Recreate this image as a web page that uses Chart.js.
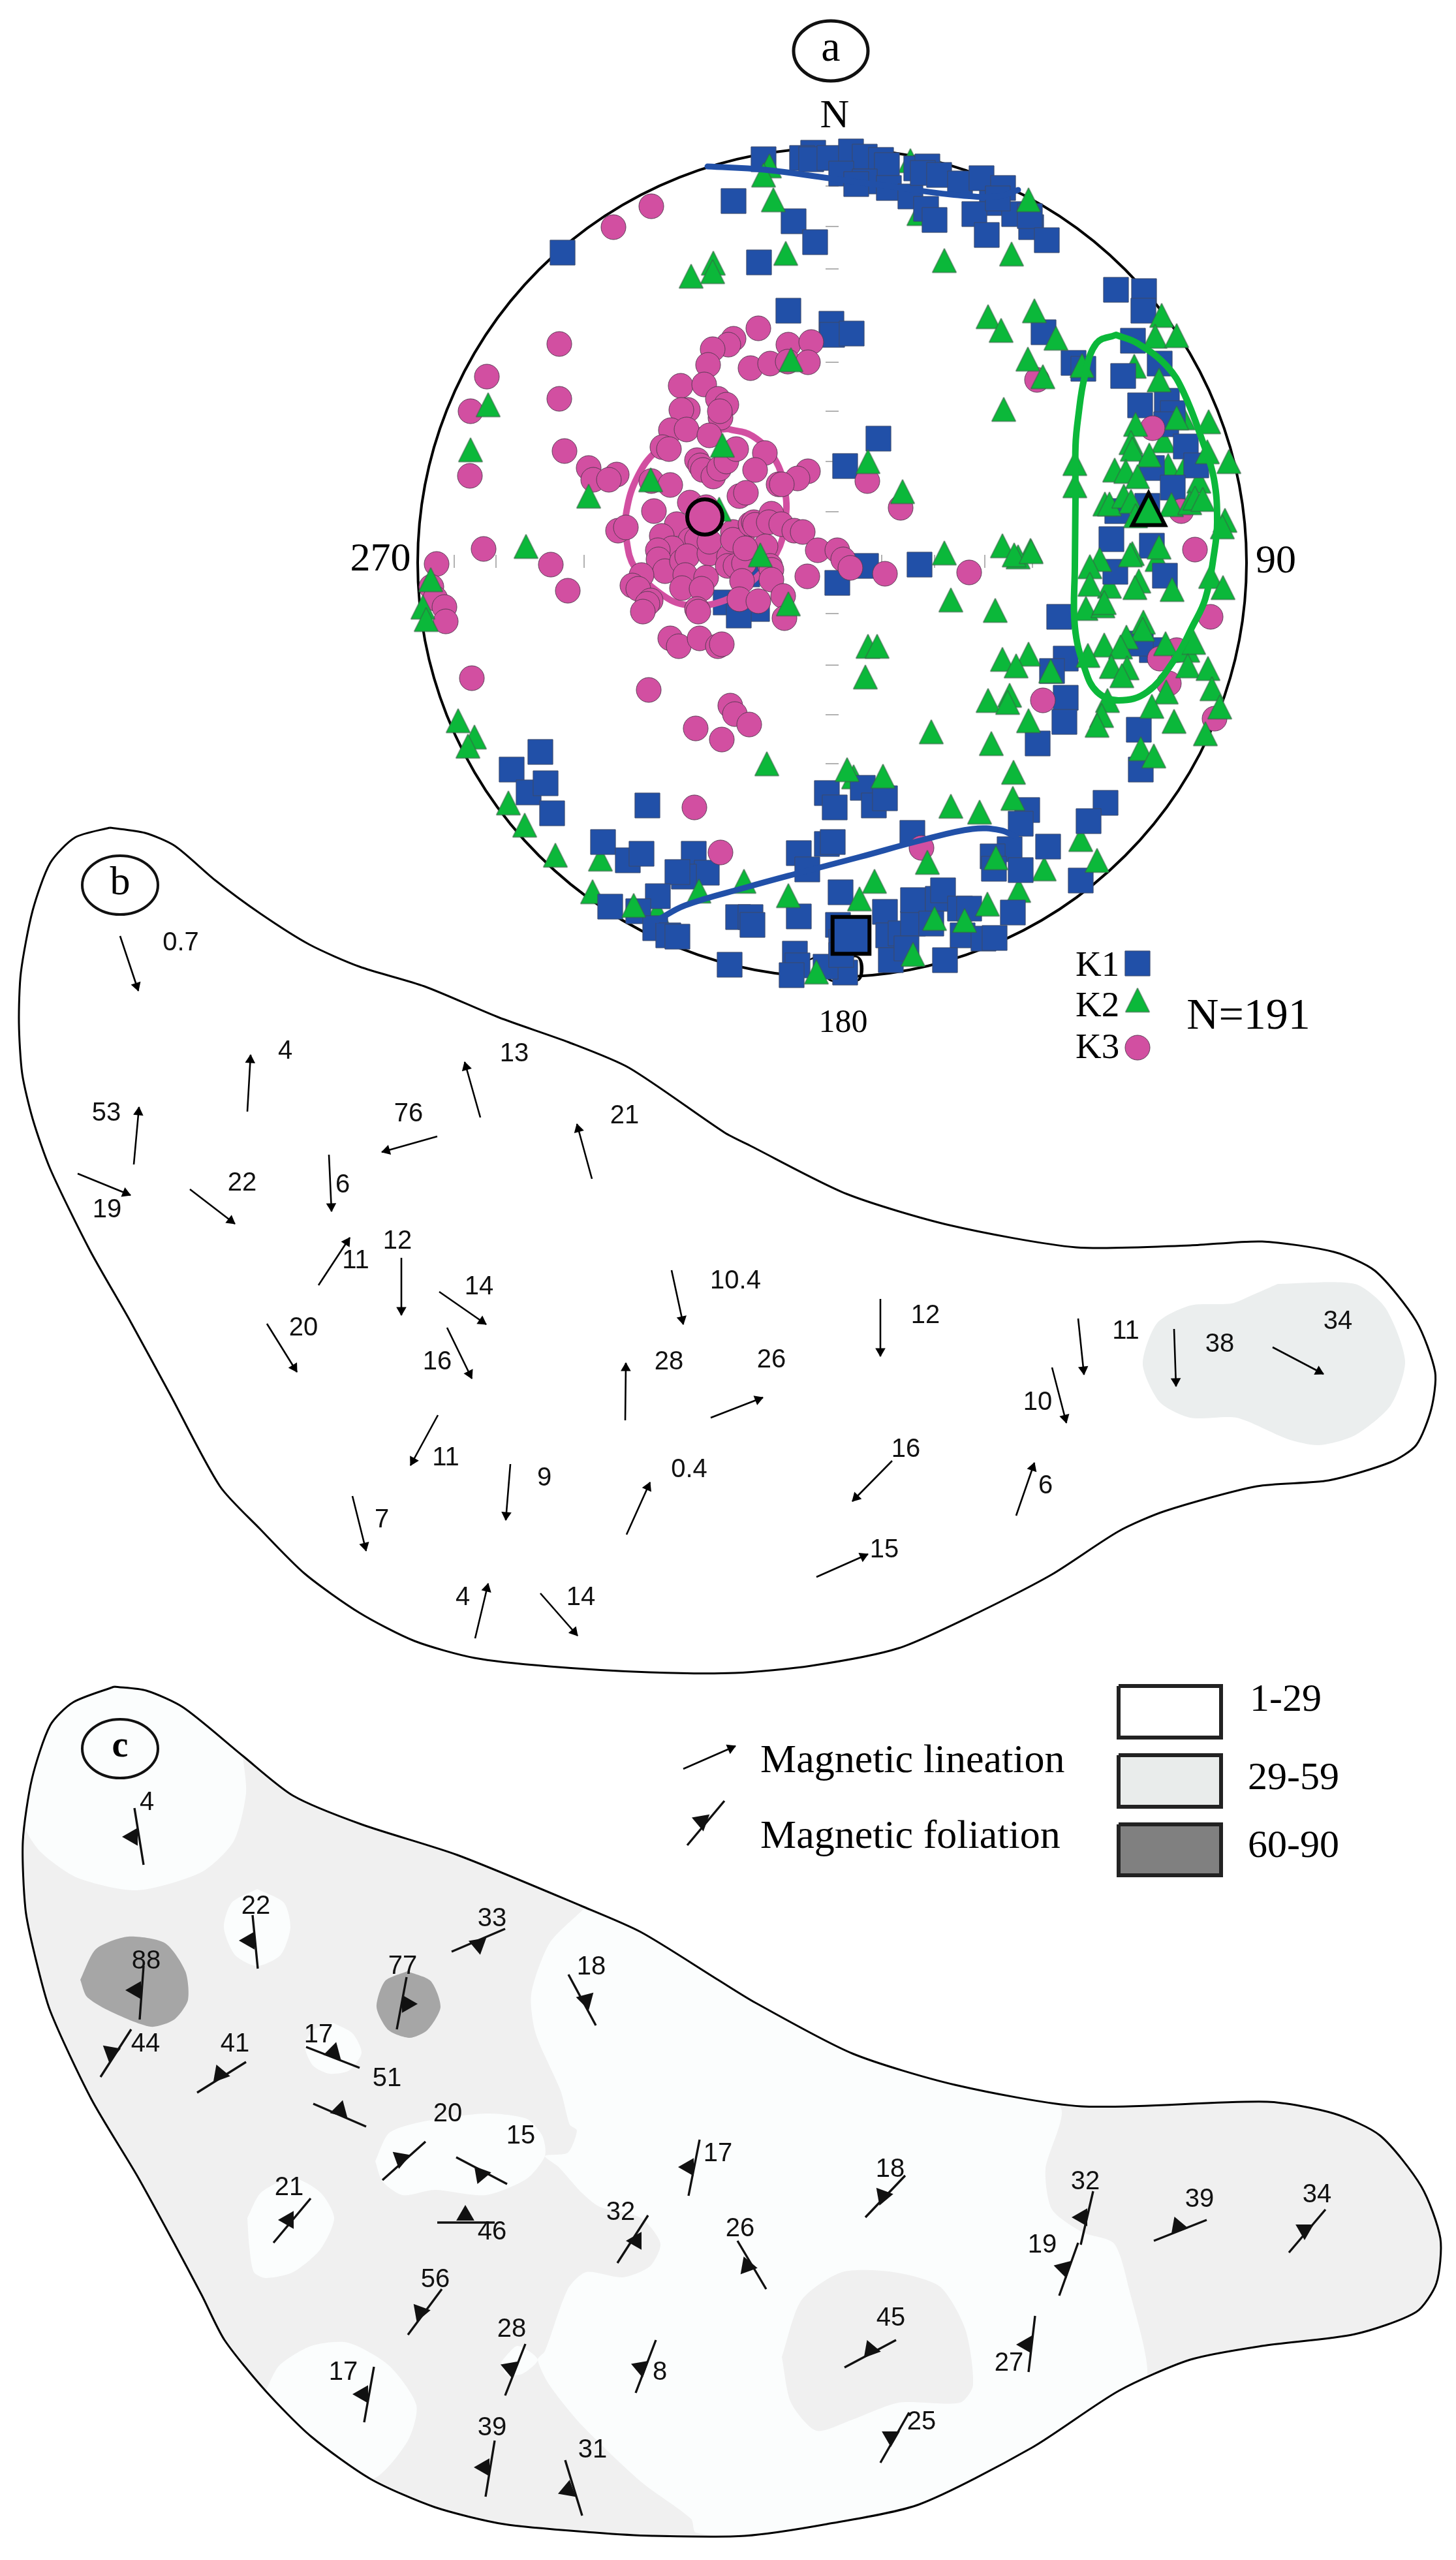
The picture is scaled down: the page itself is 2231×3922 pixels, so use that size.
<!DOCTYPE html>
<html><head><meta charset="utf-8">
<style>html,body{margin:0;padding:0;background:#fff}#w{width:2231px;height:3922px}</style>
<script src="https://cdn.jsdelivr.net/npm/chart.js@4"></script>
</head><body><div id="w"><canvas id="c" width="2231" height="3922"></canvas></div>
<script>
// Stereonet principal axes, read in sheet coordinates
const k1 = [[1170,244],[1246,234],[1229,242],[1243,244],[1271,242],[1304,232],[1325,240],[1350,245],[1359,253],[1289,266],[1325,278],[1312,282],[1362,288],[1395,301],[1404,258],[1421,255],[1414,265],[1439,268],[1471,281],[1504,273],[1537,288],[1520,311],[1493,328],[1554,328],[1580,348],[1578,331],[1604,368],[1512,360],[1419,320],[1432,337],[1529,304],[1124,308],[1216,339],[1249,371],[1163,402],[862,387],[1208,476],[1274,496],[1275,513],[1305,511],[1710,444],[1753,446],[1752,476],[1599,509],[1736,522],[1645,556],[1660,565],[1721,576],[1777,557],[1747,621],[1788,614],[1797,633],[1787,650],[1346,672],[1295,714],[1817,684],[1833,713],[1765,717],[1797,747],[1758,775],[1712,783],
[1703,826],[1765,836],[1709,876],[1785,882],[1327,867],[1409,865],[1283,893],[1145,880],[1112,923],[1160,933],[1132,943],[1623,945],[1633,1009],[1612,1028],[1765,996],[1748,986],[1633,1069],[1631,1106],[1590,1139],[1745,1118],[1748,1179],[828,1152],[784,1179],[810,1214],[836,1200],[846,1246],[992,1234],[1267,1215],[1279,1237],[1322,1207],[1339,1234],[1356,1223],[924,1290],[962,1318],[983,1308],[1063,1308],[1224,1307],[1267,1293],[1276,1290],[1398,1276],[1574,1241],[1564,1262],[1694,1230],[1668,1258],[1606,1297],[1547,1301],[1521,1312],[1523,1331],[1564,1333],[1656,1349],[1237,1332],[1083,1337],[1048,1343],[1038,1336],[1008,1373],[935,1389],[978,1396],[1004,1422],[1024,1433],[1038,1435],[1118,1478],[1224,1404],[1131,1405],[1150,1405],[1153,1417],[1288,1367],[1218,1461],[1222,1479],[1213,1494],[1295,1490],[1265,1481],[1284,1417],[1289,1443],[1356,1397],[1361,1433],[1380,1430],[1399,1415],[1399,1379],[1437,1377],[1445,1364],[1471,1392],[1485,1392],[1427,1415],[1475,1433],[1507,1438],[1524,1437],[1552,1398],[1448,1471],[1365,1471],[1389,1453],[1289,1463]];
const k2Behind = [[1395,246],[1435,255],[1408,327],[1738,561],[920,1316],[1656,1286],[1561,1364],[1600,1331],[1308,1190],[1007,1397],[908,1366],[1813,640],[1783,675],[1790,713],[1817,713],[1837,737],[1773,857],[1700,898]];
const k2 = [[1179,254],[1170,268],[1185,306],[1576,306],[1204,388],[1093,403],[1092,416],[1059,423],[1447,399],[1550,389],[1514,485],[1585,476],[1534,506],[1618,518],[1575,550],[1598,577],[1658,560],[1538,627],[1780,483],[1770,515],[1803,514],[1776,582],[748,620],[721,689],[1212,551],[1107,682],[1330,707],[997,735],[902,760],[1383,753],[1102,780],
[1852,646],[1803,640],[1740,650],[1733,678],[1735,688],[1761,697],[1883,707],[1850,692],[1647,710],[1647,744],[1708,720],[1725,722],[1743,730],[1693,772],[1700,772],[1722,760],[1733,768],[1795,773],[1823,770],[1831,763],[1843,765],[1740,790],[1877,797],[1873,807],[1579,843],[1560,853],[1735,848],[1732,850],[1776,838],[1685,857],[1670,868],[1670,895],[1745,890],[1739,900],[1796,903],[1855,883],[1874,900],[1664,932],[1690,928],[1692,923],[1752,953],
[806,837],[1447,847],[1536,836],[1554,850],[1580,845],[1165,850],[1457,919],[1525,935],[1208,925],[660,888],[648,930],[653,949],[1751,964],[1786,986],[1726,976],[1692,988],[1717,991],[1667,1004],[1820,996],[1829,984],[1576,1002],[1536,1010],[1557,1020],[1610,1028],[1703,1021],[1727,1023],[1719,1035],[1820,1020],[1851,1024],[1330,990],[1344,990],[1326,1037],[1787,1060],[1857,1055],[1697,1073],[1765,1082],[1514,1073],[1547,1065],[1544,1076],[1688,1096],[1681,1111],[1576,1104],[1799,1105],[1869,1083],[1847,1124],[1427,1121],[1519,1139],[1748,1147],[1768,1158],[1553,1183],[1552,1223],[702,1104],[727,1129],[717,1143],[779,1230],[804,1264],[851,1310],[971,1387],[1140,1350],[1071,1365],[1208,1372],[1175,1170],[1298,1179],[1353,1189],[1457,1235],[1501,1244],[1421,1321],[1526,1314],[1681,1318],[1340,1350],[1317,1377],[1513,1385],[1432,1407],[1478,1410],[1399,1462],[1251,1489]];
const k3 = [[998,316],[940,348],[857,527],[857,611],[746,577],[721,630],[720,729],[865,691],[902,717],[909,735],[1162,503],[1124,519],[1116,528],[1092,535],[1208,528],[1243,524],[1085,559],[1150,564],[1180,557],[1207,554],[1238,555],[1043,591],[1079,589],[1100,611],[1113,620],[1054,628],[1044,628],[1104,640],
[1028,659],[1052,658],[1015,685],[1025,688],[1087,667],[1103,630],[1068,705],[1073,713],[1077,720],[1093,730],[1102,718],[1113,707],[1128,688],[1172,694],[1157,720],[1238,722],[1222,733],[1193,742],[1198,742],[1133,760],[1143,755],[998,737],[1027,743],[945,727],[933,735],[1057,770],[1082,777],[1002,783],[947,813],[959,808],[1037,803],[1014,821],[1058,827],[1068,826],[1030,840],[1008,843],[1009,857],[1019,875],[1045,860],[1053,852],[1087,848],[1087,830],[1050,881],[1082,885],[1117,853],[1115,867],[1127,867],[1140,863],[1123,815],[1137,827],[1123,827],[1150,803],[1155,800],[1157,804],[1182,787],[1178,800],[1197,803],[1217,813],[1230,815],[1173,837],[1180,867],[1182,873],[1182,888],[1137,890],[1142,840],[983,881],[969,897],[978,902],[997,920],[992,925],[985,937],[1045,901],[1075,902],[1068,933],[1070,937],[1133,918],[1162,921],[1200,913],[1202,947],[1253,843],[1283,843],[1292,857],[1303,870],[1237,883],[1027,978],[1040,990],[1072,978],[1100,990],[1106,987],
[1329,737],[1380,778],[1589,582],[1766,656],[1810,783],[1356,879],[1485,877],[1831,842],[741,841],[844,865],[870,905],[669,864],[661,899],[667,917],[681,930],[683,952],[723,1039],[994,1057],[1119,1081],[1126,1094],[1148,1110],[1066,1116],[1106,1133],[1803,996],[1777,1009],[1855,945],[1791,1047],[1598,1073],[1861,1101],[1064,1237],[1104,1306],[1412,1299]];
const meanK1 = [[1304,1433]];
const meanK2 = [[1760,780]];
const meanK3 = [[1080,792]];
const legendK1 = [[1743,1476]];
const legendK2 = [[1743,1532]];
const legendK3 = [[1743,1605]];
const confK1north = [[1084,255],[1171,260],[1270,273],[1360,285],[1457,298],[1529,301],[1560,291]];
const confK1south = [[1007,1410],[1050,1387],[1145,1359],[1222,1338],[1317,1313],[1413,1287],[1490,1270],[1533,1272],[1557,1282]];
const confK2 = [[1710,513],[1680,526],[1662,577],[1652,640],[1648,683],[1648,760],[1647,867],[1647,960],[1662,1024],[1681,1060],[1714,1073],[1758,1060],[1800,1010],[1827,960],[1847,917],[1860,850],[1865,800],[1860,733],[1843,677],[1813,600],[1788,561],[1743,526],[1710,513]];
const confK3 = [[1115,657],[1153,668],[1187,703],[1203,753],[1203,800],[1190,847],[1153,890],[1110,920],[1053,927],[1013,910],[973,870],[960,827],[960,783],[977,730],[1007,690],[1053,663],[1115,657]];
const netCentre = [[1275,862]];
const netTicksNS = [[1275,285],[1275,347],[1275,412],[1275,555],[1275,630],[1275,707],[1275,784],[1275,940],[1275,1019],[1275,1095],[1275,1170]];
const netTicksEW = [[696,860],[760,860],[895,860],[1351,860],[1432,860],[1509,860],[1582,860]];

// Map outlines and shaded domains
const outlineB = [[168,1268],[222,1276],[268,1296],[329,1348],[398,1399],[474,1447],[551,1481],[650,1511],[765,1559],[872,1597],[964,1636],[1110,1735],[1149,1755],[1297,1829],[1455,1877],[1649,1911],[1824,1908],[1934,1902],[2044,1918],[2107,1947],[2170,2024],[2199,2102],[2193,2159],[2170,2214],[2131,2240],[2036,2268],[1926,2277],[1785,2315],[1714,2346],[1612,2412],[1502,2469],[1377,2525],[1243,2552],[1126,2563],[995,2562],[842,2553],[727,2540],[635,2514],[551,2471],[467,2411],[398,2342],[337,2277],[260,2135],[199,2023],[138,1916],[77,1791],[50,1714],[34,1645],[29,1567],[32,1490],[50,1395],[77,1322],[115,1283],[168,1268]];
const domainB = [[1958,1967],[2076,1967],[2123,2004],[2153,2085],[2131,2153],[2076,2199],[2021,2214],[1974,2205],[1895,2172],[1824,2172],[1777,2148],[1751,2090],[1773,2027],[1824,2000],[1887,1997],[1919,1984],[1958,1967]];
const outlineC = [[175,2584],[224,2590],[281,2616],[372,2690],[449,2751],[554,2795],[701,2842],[891,2920],[982,2960],[1100,3033],[1157,3068],[1306,3146],[1463,3194],[1657,3227],[1942,3220],[2044,3238],[2115,3272],[2178,3350],[2207,3429],[2201,3498],[2170,3542],[2076,3576],[1934,3594],[1824,3615],[1714,3663],[1581,3750],[1408,3837],[1267,3867],[1141,3885],[1000,3885],[912,3880],[772,3867],[666,3841],[568,3798],[477,3733],[407,3663],[344,3585],[309,3516],[267,3437],[210,3333],[140,3216],[77,3081],[53,2994],[39,2925],[35,2821],[49,2725],[77,2643],[112,2608],[175,2584]];
const lowC = [
 [[372,2690],[377,2747],[358,2821],[309,2868],[210,2896],[119,2877],[63,2838],[39,2799],[49,2725],[77,2643],[112,2608],[175,2584],[224,2590],[281,2616],[372,2690]],
 [[394,2894],[435,2915],[445,2953],[430,2995],[394,3012],[360,2995],[343,2953],[355,2915],[394,2894]],
 [[510,3099],[540,3115],[554,3145],[535,3172],[505,3177],[480,3165],[467,3135],[480,3110],[510,3099]],
 [[575,3311],[596,3268],[645,3251],[744,3238],[807,3246],[831,3272],[835,3303],[807,3338],[744,3363],[666,3355],[617,3363],[586,3342],[575,3311]],
 [[894,2925],[842,2977],[814,3055],[821,3116],[859,3203],[873,3255],[884,3264],[870,3298],[835,3303],[856,3320],[891,3359],[919,3381],[982,3398],[1012,3437],[996,3472],[954,3489],[898,3481],[870,3507],[835,3602],[824,3615],[842,3654],[891,3715],[982,3802],[1059,3859],[1066,3880],[1141,3885],[1267,3867],[1408,3837],[1581,3750],[1714,3663],[1758,3641],[1730,3507],[1707,3437],[1659,3420],[1612,3385],[1602,3324],[1624,3227],[1463,3194],[1306,3146],[1157,3068],[1100,3033],[982,2960],[894,2925]],
 [[379,3398],[400,3359],[449,3337],[491,3359],[512,3398],[491,3446],[449,3481],[407,3490],[389,3481],[382,3442],[379,3398]],
 [[407,3663],[428,3624],[477,3594],[533,3589],[596,3624],[638,3685],[624,3741],[568,3798],[477,3733],[407,3663]],
 [[768,3618],[793,3594],[824,3615],[800,3637],[775,3637],[768,3618]]
];
const midC = [[[1198,3611],[1228,3524],[1290,3481],[1369,3481],[1440,3503],[1479,3568],[1491,3654],[1471,3681],[1377,3681],[1306,3707],[1251,3724],[1212,3681],[1198,3611]]];
const highC = [
 [[123,3033],[147,2986],[196,2967],[253,2977],[284,3020],[288,3064],[267,3094],[231,3105],[168,3081],[133,3059],[123,3033]],
 [[624,3020],[660,3035],[675,3075],[655,3110],[628,3122],[595,3110],[577,3075],[590,3035],[624,3020]]
];
const legendClasses = [
 {label:'1-29', box:[[1714,2583],[1871,2583],[1871,2662],[1714,2662],[1714,2583]], fill:'#ffffff'},
 {label:'29-59',box:[[1714,2689],[1871,2689],[1871,2768],[1714,2768],[1714,2689]], fill:'#e9eceb'},
 {label:'60-90',box:[[1714,2795],[1871,2795],[1871,2873],[1714,2873],[1714,2795]], fill:'#808080'}
];

// Magnetic lineation arrows: tail x, tail y, head x, head y
const lineations = [[184,1434,212,1518],[379,1703,384,1616],[205,1784,213,1696],[119,1798,200,1831],[291,1822,360,1875],[504,1769,508,1856],[670,1741,585,1765],[736,1712,712,1627],[907,1806,884,1722],[488,1969,536,1896],[615,1927,615,2015],[673,1979,745,2029],[409,2028,455,2102],[685,2034,723,2112],[671,2168,629,2245],[540,2292,561,2376],[782,2243,775,2329],[728,2510,748,2426],[828,2441,885,2506],[960,2351,996,2271],[958,2176,959,2088],[1029,1946,1047,2029],[1089,2172,1169,2141],[1349,1990,1349,2078],[1652,2020,1661,2106],[1612,2095,1634,2180],[1799,2036,1802,2124],[1950,2064,2028,2105],[1367,2238,1306,2300],[1557,2322,1585,2241],[1251,2416,1330,2381],[1047,2710,1127,2675]];
const lineationLabels = [['0.7',277,1445],['4',437,1611],['53',163,1706],['19',164,1854],['22',371,1813],['6',525,1816],['76',626,1707],['13',788,1615],['21',957,1710],['12',609,1902],['11',545,1932],['14',734,1972],['20',465,2035],['16',670,2087],['10.4',1127,1963],['28',1025,2087],['26',1182,2084],['11',683,2234],['9',834,2265],['0.4',1056,2252],['7',585,2329],['4',709,2448],['14',890,2448],['12',1418,2016],['11',1725,2040],['38',1869,2060],['34',2050,2025],['10',1590,2149],['16',1388,2221],['6',1602,2277],['15',1355,2375]];

// Magnetic foliation: strike ends x0,y0,x1,y1 and dip flag x,y,direction(deg)
const foliations = [[206,2770,220,2857,203,2814,270],[387,2934,395,3016,382,2973,270],[220,3012,214,3094,208,3049,270],[201,3109,154,3182,170,3144,310],[377,3159,302,3206,337,3178,340],[469,3136,551,3168,511,3144,15],[480,3223,561,3258,521,3233,15],[623,3029,608,3109,624,3070,90],[774,2955,692,2990,733,2979,170],[871,3025,913,3103,898,3064,165],[652,3281,586,3340,614,3307,310],[699,3305,777,3346,737,3331,200],[476,3368,419,3436,442,3401,150],[670,3405,758,3405,713,3394,0],[993,3394,946,3467,975,3433,30],[677,3507,625,3577,644,3542,320],[805,3591,774,3670,782,3628,290],[1005,3585,974,3666,982,3627,290],[573,3626,558,3711,556,3668,270],[758,3739,744,3825,742,3780,270],[866,3769,892,3854,870,3815,250],[1072,3278,1055,3364,1055,3320,270],[1387,3333,1326,3397,1353,3364,320],[1130,3433,1174,3507,1145,3472,340],[1675,3357,1656,3439,1658,3397,270],[1652,3436,1623,3517,1630,3475,285],[1849,3401,1768,3433,1805,3411,340],[2031,3385,1975,3451,1999,3416,180],[1373,3585,1294,3627,1334,3600,340],[1586,3548,1576,3634,1573,3592,270],[1393,3696,1349,3773,1365,3733,180],[1110,2759,1053,2827,1075,2790,170]];
const foliationLabels = [['4',225,2762],['22',392,2921],['88',224,3005],['77',617,3013],['33',754,2940],['18',906,3014],['44',223,3132],['41',360,3132],['17',488,3118],['51',593,3185],['20',686,3239],['15',798,3273],['21',443,3352],['46',754,3420],['32',951,3390],['56',667,3493],['28',784,3569],['17',526,3635],['8',1011,3635],['39',754,3720],['31',908,3754],['17',1100,3300],['18',1364,3324],['26',1134,3415],['32',1663,3343],['39',1838,3370],['34',2018,3363],['19',1597,3440],['45',1365,3552],['27',1546,3621],['25',1412,3711]];

// Sheet text and panel tags
const panelTags = [['a',1273,78,57,46,'66px "Liberation Serif"',5],['b',184,1356,58,45,'62px "Liberation Serif"',4],['c',184,2679,58,45,'bold 56px "Liberation Serif"',4]];
const netLabels = [['N',1279,179,62],['270',583,858,62],['90',1955,861,62],['180',1292,1568,50],['N=191',1913,1558,68]];
const keyLabels = [['K1',1648,1481,55],['K2',1648,1543,55],['K3',1648,1607,55],['Magnetic lineation',1165,2699,62],['Magnetic foliation',1165,2815,62],['1-29',1915,2605,60],['29-59',1912,2725,60],['60-90',1912,2829,60]];

const BLUE='#2150a8', GREEN='#0bb83a', PINK='#d24fa1', SANS='"Liberation Sans"', SERIF='"Liberation Serif"';
const triangleMark = (w,h,fill,line,lw) => {
  const pad=Math.ceil(lw*2), c=document.createElement('canvas'); c.width=w+pad*2; c.height=h+pad*2;
  const g=c.getContext('2d'); g.beginPath(); g.moveTo(pad+w/2,pad); g.lineTo(pad+w,pad+h); g.lineTo(pad,pad+h); g.closePath();
  g.fillStyle=fill; g.fill(); g.lineWidth=lw; g.strokeStyle=line; g.lineJoin='miter'; g.stroke(); return c;
};
const triK2 = triangleMark(37,37,GREEN,'#3d5a48',1);
const triMean = triangleMark(50,49,GREEN,'#000',6);
const pts = a => a.map(p => ({x:p[0], y:p[1]}));
const layers = [];
const poly = (a, fill, line, w) => layers.push({type:'line', data:pts(a), fill:fill?'shape':false, backgroundColor:fill||'transparent', borderColor:line||'transparent', borderWidth:w||0, pointRadius:0, tension:0.25});
const curve = (a, col, w) => layers.push({type:'line', data:pts(a), fill:false, borderColor:col, borderWidth:w, pointRadius:0, tension:0.4, borderCapStyle:'round'});
const sharp = (a, fill, line, w) => layers.push({type:'line', data:pts(a), fill:'shape', backgroundColor:fill, borderColor:line, borderWidth:w, pointRadius:0, tension:0});
const marks = (a, style, r, bg, bc, bw, rot) => layers.push({type:'scatter', data:pts(a), pointStyle:style, pointRadius:r, pointHoverRadius:r, backgroundColor:bg, borderColor:bc, borderWidth:bw, rotation:rot||0, clip:false});

// map b
poly(outlineB, '#ffffff', '#000', 3);
poly(domainB, '#ebeeee');
// map c
poly(outlineC, '#f0f0f0');
lowC.forEach(a => poly(a, '#fbfdfd'));
midC.forEach(a => poly(a, '#f0f0f0'));
highC.forEach(a => poly(a, '#a6a6a6'));
poly(outlineC, false, '#000', 3);
legendClasses.forEach(k => sharp(k.box, k.fill, '#222', 6));
// arrows
const segs = r => r.flatMap(v => [{x:v[0],y:v[1]},{x:v[2],y:v[3]},{x:null,y:null}]);
layers.push({type:'line', data:segs(lineations), borderColor:'#000', borderWidth:2.6, pointRadius:0, fill:false, spanGaps:false, tension:0});
const headOf = v => { const dx=v[2]-v[0], dy=v[3]-v[1], l=Math.hypot(dx,dy); return {x:v[2]-dx/l*8, y:v[3]-dy/l*8, a:Math.atan2(dx,-dy)*180/Math.PI}; };
const heads = lineations.map(headOf);
layers.push({type:'scatter', data:heads.map(h=>({x:h.x,y:h.y})), pointStyle:'triangle', pointRadius:9, backgroundColor:'#000', borderWidth:0, rotation:heads.map(h=>h.a), clip:false});
// foliation symbols
layers.push({type:'line', data:segs(foliations), borderColor:'#111', borderWidth:3.4, pointRadius:0, fill:false, spanGaps:false, tension:0});
layers.push({type:'scatter', data:foliations.map(f=>({x:f[4],y:f[5]})), pointStyle:'triangle', pointRadius:16, backgroundColor:'#111', borderWidth:0, rotation:foliations.map(f=>f[6]), clip:false});
// stereonet
marks(netCentre, 'circle', 635, 'transparent', '#000', 4);
marks(netTicksNS, 'line', 10, '#999', '#999', 1.5);
marks(netTicksEW, 'line', 10, '#999', '#999', 1.5, 90);
marks(k2Behind, triK2, 20);
marks(k1, 'rect', 27, BLUE, '#3b4a6b', 1);
curve(confK3, PINK, 10);
marks(k3, 'circle', 19, PINK, '#5c3a55', 1);
marks(k2, triK2, 20);
curve(confK1north, BLUE, 9);
curve(confK1south, BLUE, 9);
curve(confK2, GREEN, 10);
marks(meanK1, 'rect', 40, BLUE, '#000', 6);
marks(meanK3, 'circle', 27, PINK, '#000', 6);
marks(meanK2, triMean, 30);
marks(legendK1, 'rect', 27, BLUE, '#3b4a6b', 1);
marks(legendK2, triK2, 20);
marks(legendK3, 'circle', 19, PINK, '#5c3a55', 1);
layers.forEach((d,i) => { d.order = layers.length - i; });

const textPlugin = {
  id:'sheetText',
  beforeDatasetsDraw(ch){
    const {ctx, scales:{x,y}} = ch;
    ctx.save(); ctx.fillStyle='#000'; ctx.textAlign='center'; ctx.textBaseline='middle';
    ctx.font='62px '+SERIF; ctx.fillText('180', x.getPixelForValue(1279), y.getPixelForValue(1488));
    ctx.restore();
  },
  afterDatasetsDraw(ch){
    const {ctx, scales:{x,y}} = ch;
    const X=v=>x.getPixelForValue(v), Y=v=>y.getPixelForValue(v);
    ctx.save(); ctx.fillStyle='#111'; ctx.textAlign='center'; ctx.textBaseline='middle';
    ctx.font='40px '+SANS;
    lineationLabels.concat(foliationLabels).forEach(l => ctx.fillText(l[0], X(l[1]), Y(l[2])));
    ctx.fillStyle='#000';
    netLabels.forEach(l => { ctx.font=l[3]+'px '+SERIF; ctx.fillText(l[0], X(l[1]), Y(l[2])); });
    ctx.textAlign='left';
    keyLabels.forEach(l => { ctx.font=l[3]+'px '+SERIF; ctx.fillText(l[0], X(l[1]), Y(l[2])); });
    ctx.textAlign='center';
    panelTags.forEach(t => {
      ctx.beginPath(); ctx.lineWidth=t[6]; ctx.strokeStyle='#111';
      ctx.ellipse(X(t[1]),Y(t[2]),t[3],t[4],0,0,Math.PI*2); ctx.stroke();
      ctx.font=t[5]; ctx.fillText(t[0],X(t[1]),Y(t[2])-2);
    });
    ctx.restore();
  }
};

new Chart(document.getElementById('c'), {
  type:'scatter',
  data:{datasets:layers},
  plugins:[textPlugin],
  options:{
    responsive:false, animation:false, devicePixelRatio:1,
    layout:{padding:0, autoPadding:false},
    plugins:{legend:{display:false}, tooltip:{enabled:false}},
    scales:{
      x:{type:'linear', min:0, max:2231, display:false},
      y:{type:'linear', min:0, max:3922, reverse:true, display:false}
    }
  }
});
</script></body></html>
